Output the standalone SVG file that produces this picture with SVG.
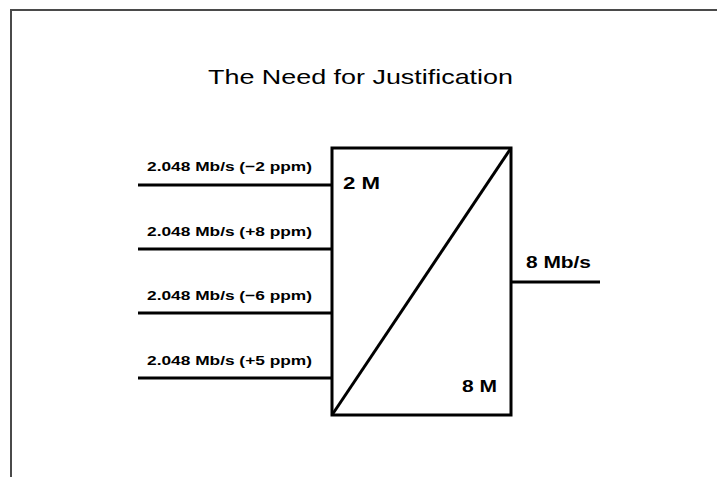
<svg xmlns="http://www.w3.org/2000/svg" width="717" height="477" viewBox="0 0 717 477">
<style>
.frame{stroke:#4a4a4a;stroke-width:2;fill:none}
.ln{stroke:#000;stroke-width:3;fill:none}
.lbl{font-family:"Liberation Sans",Arial,sans-serif;font-weight:bold;font-size:13.5px;fill:#000}
.big{font-family:"Liberation Sans",Arial,sans-serif;font-weight:bold;font-size:16px;fill:#000}
.title{font-family:"Liberation Sans",Arial,sans-serif;font-size:21px;fill:#000}
</style>
<rect width="717" height="477" fill="#fff"/>
<path class="frame" d="M11 477 V10 H717"/>
<text class="title" x="208" y="84" textLength="305" lengthAdjust="spacingAndGlyphs">The Need for Justification</text>
<g id="mux">
<rect class="ln" x="332" y="148" width="179" height="267"/>
<line class="ln" x1="332" y1="415" x2="511" y2="148"/>
<text class="big" x="343" y="189" textLength="37" lengthAdjust="spacingAndGlyphs">2 M</text>
<text class="big" x="462" y="392" textLength="35" lengthAdjust="spacingAndGlyphs">8 M</text>
</g>
<g id="connectors">
<line class="ln" x1="138" y1="185" x2="332" y2="185"/>
<line class="ln" x1="138" y1="249" x2="332" y2="249"/>
<line class="ln" x1="138" y1="313" x2="332" y2="313"/>
<line class="ln" x1="138" y1="378" x2="332" y2="378"/>
<line class="ln" x1="511" y1="282" x2="600" y2="282"/>
</g>
<g id="labels">
<text class="lbl" x="147" y="171" textLength="165" lengthAdjust="spacingAndGlyphs">2.048 Mb/s (−2 ppm)</text>
<text class="lbl" x="147" y="236" textLength="165" lengthAdjust="spacingAndGlyphs">2.048 Mb/s (+8 ppm)</text>
<text class="lbl" x="147" y="300" textLength="165" lengthAdjust="spacingAndGlyphs">2.048 Mb/s (−6 ppm)</text>
<text class="lbl" x="147" y="365" textLength="165" lengthAdjust="spacingAndGlyphs">2.048 Mb/s (+5 ppm)</text>
<text class="big" x="526" y="268" textLength="65" lengthAdjust="spacingAndGlyphs">8 Mb/s</text>
</g>
</svg>
